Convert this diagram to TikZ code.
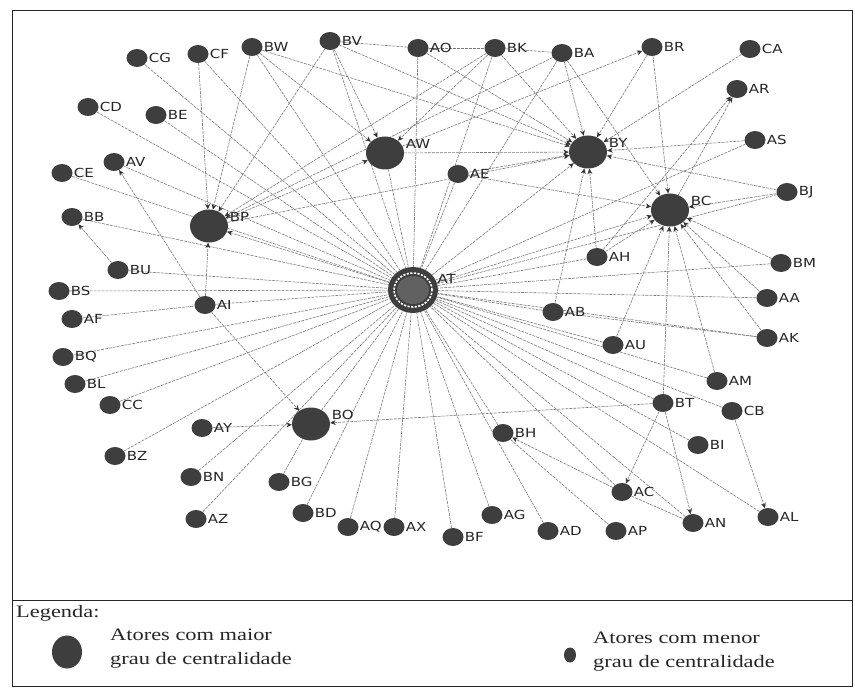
\documentclass[tikz,border=0pt]{standalone}
\usepackage{fontspec}
\setmainfont{Liberation Serif}
\newfontfamily\lblfont[FakeStretch=1.2]{DejaVu Sans}
\newfontfamily\legfont[FakeStretch=1.28]{Liberation Serif}
\usetikzlibrary{shapes.geometric,arrows.meta}
\definecolor{nodegray}{HTML}{3E3E3E}
\pgfdeclarelayer{edges}
\pgfsetlayers{edges,main}
\begin{document}
\begin{tikzpicture}[x=1pt,y=-1pt,
  sm/.style={ellipse, fill=nodegray, minimum width=21pt, minimum height=18pt, inner sep=0pt},
  bg/.style={ellipse, fill=nodegray, minimum width=38pt, minimum height=33pt, inner sep=0pt},
  lbl/.style={font=\lblfont\fontsize{12.5}{13}\selectfont, inner sep=1pt, text=black!85},
  edge/.style={draw=black!52, line width=0.6pt, dash pattern=on 3pt off 1pt},
  arr/.style={edge, -{Stealth[length=5.5pt,width=5pt,color=black!80]}},
  legtext/.style={font=\legfont\fontsize{17.5}{24}\selectfont, align=left, inner sep=0pt, anchor=west, text=black!85}
]
\useasboundingbox (0,0) rectangle (855,690);
% frame
\draw[line width=0.9pt, draw=black!85] (12,10) rectangle (852,686);
\draw[line width=0.9pt, draw=black!85] (12,600) -- (852,600);

% small nodes
\foreach \n/\x/\y in {CG/137/58, CF/198/54, BW/252/47, BV/330/41, AO/418/48, BK/495/48,
  BA/562/53, BR/652/47, CA/750/49, AR/737/89, CD/88/107, BE/156/115, AS/755/140,
  AE/458/174, AV/114/162, CE/62/173, BJ/787/192, BB/72/217, BU/118/270, AH/597/257,
  BM/781/263, BS/59/291, AI/205/305, AF/72/319, AB/553/312, AA/767/298, AK/767/338,
  AU/613/345, BQ/63/357, BL/75/384, AM/717/381, CC/110/405, BT/663/403, CB/732/411,
  AY/202/428, BH/503/433, BI/698/445, BZ/115/456, BN/191/477, BG/279/482, AC/622/492,
  AG/492/515, AZ/196/519, BD/303/513, AQ/348/527, AX/394/527, BF/453/537, AD/548/531,
  AP/616/531, AN/693/523, AL/768/517}
  \node[sm, label={[lbl,anchor=west]east:\n}] (\n) at (\x,\y) {};

% big nodes
\foreach \n/\x/\y in {AW/385/153, BY/588/152, BC/670/210, BP/209/226, BO/311/424}
  \node[bg, label={[lbl,anchor=west,label distance=3pt]25:\n}] (\n) at (\x,\y) {};

% hub
\node[ellipse, fill=nodegray, minimum width=50pt, minimum height=46pt, inner sep=0pt,
      label={[lbl,anchor=west,label distance=1pt]25:AT}] (AT) at (413,290) {};
\draw[white, line width=1.6pt, dash pattern=on 2.2pt off 1.4pt] (AT.center) ellipse [x radius=19pt, y radius=17pt];
\fill[black!62] (AT.center) ellipse [x radius=16pt, y radius=14pt];

\begin{pgfonlayer}{edges}
% lines to the hub
\foreach \n in {CG,CF,BW,BV,AO,BK,BA,CD,BE,AV,CE,BB,BU,BS,AI,BQ,BL,CC,BZ,BN,AZ,BD,AQ,AX,
  BF,AG,AD,BH,AC,AN,AL,BI,CB,BT,AM,AU,AK,AA,BM,BJ,AS,AE,AH,AB,AW,BO}
  \draw[edge] (\n) -- (AT);
% other plain lines
\foreach \a/\b in {BV/AO, AO/BK, BK/BA, AF/AI, BH/AP, AC/AN, BG/BO, AB/AK}
  \draw[edge] (\a) -- (\b);
% directed ties
\foreach \a/\b in {CF/BP, BW/BP, BV/BP, BK/BP, BA/BP, AT/BP, AI/BP,
  BW/AW, BV/AW, BK/AW, BP/AW,
  AW/BR, AW/BY, BP/BY, AE/BY, AO/BY, BW/BY, BV/BY, BK/BY, BA/BY, CA/BY, BR/BY,
  AS/BY, BJ/BY, AH/BY, AB/BY, AT/BY,
  BR/BC, BA/BC, AT/BC, AH/BC, AU/BC, BT/BC, AM/BC, AK/BC, AA/BC, BM/BC, BJ/BC, AE/BC,
  BC/AR, AH/AR,
  AI/BO, AY/BO, BT/BO,
  BU/BB, AI/AV, BT/AC, BT/AN, CB/AL, AC/BH}
  \draw[arr] (\a) -- (\b);
\end{pgfonlayer}

% legend
\node[font=\legfont\fontsize{17.5}{20}\selectfont, anchor=west, inner sep=0pt, text=black!85] (leg) at (16,613) {Legenda:};
\node[ellipse, fill=nodegray, minimum width=30pt, minimum height=33pt, inner sep=0pt] (bigkey) at (67,652) {};
\node[legtext] (bigtxt) at (110,649) {Atores com maior\\grau de centralidade};
\node[ellipse, fill=nodegray, minimum width=12pt, minimum height=15pt, inner sep=0pt] (smkey) at (570,655) {};
\node[legtext] (smtxt) at (593,652) {Atores com menor\\grau de centralidade};
\end{tikzpicture}
\end{document}
